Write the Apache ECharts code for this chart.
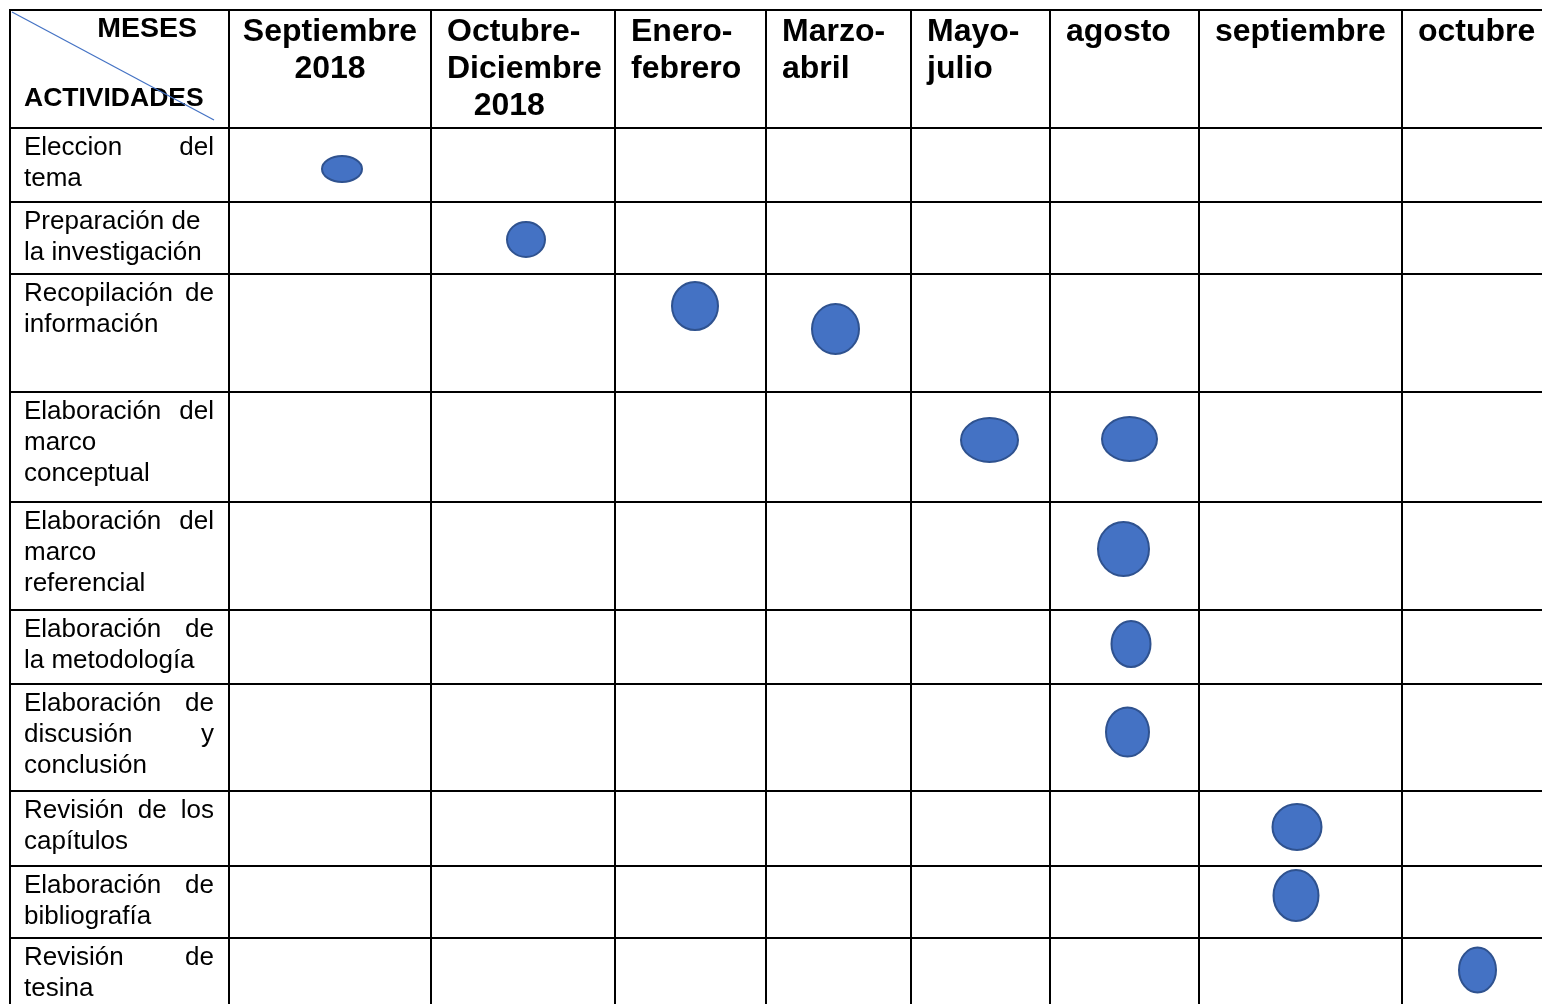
<!DOCTYPE html>
<html><head><meta charset="utf-8">
<script src="https://cdn.jsdelivr.net/npm/echarts@6/dist/echarts.min.js"></script>
<style>html,body{margin:0;padding:0;background:#fff}#c{width:1542px;height:1004px}</style>
</head><body><div id="c"></div>
<script>
// ---------- data ----------
const cornerTop = 'MESES';
const cornerBottom = 'ACTIVIDADES';
const months = ['Septiembre\n2018', 'Octubre-\nDiciembre\n   2018', 'Enero-\nfebrero', 'Marzo-\nabril', 'Mayo-\njulio', 'agosto', 'septiembre', 'octubre'];
const activities = [
  'Eleccion del\ntema',
  'Preparación de\nla investigación',
  'Recopilación de\ninformación',
  'Elaboración del\nmarco\nconceptual',
  'Elaboración del\nmarco\nreferencial',
  'Elaboración de\nla metodología',
  'Elaboración de\ndiscusión y\nconclusión',
  'Revisión de los\ncapítulos',
  'Elaboración de\nbibliografía',
  'Revisión de\ntesina'
];
// each scheduled mark: activity index and month index
const scheduledActivity = [0, 1, 2, 2, 3, 3, 4, 5, 6, 7, 8, 9];
const scheduledMonth    = [0, 1, 2, 3, 4, 5, 5, 5, 5, 6, 6, 7];

// ---------- layout (not data) ----------
const colWidths = [219, 202, 184, 151, 145, 139, 149, 203, 160];
const rowHeights = [118, 74, 72, 118, 110, 108, 74, 107, 75, 72, 75];
const justifyRows = [true, false, true, true, true, true, true, true, true, true];
const markOffsets = [[113,41],[95,37.5],[80,32],[69.5,55],[78.5,48],[79.5,47],[73.5,47],[81,34],[77.5,48],[98,36],[97,29.5],[75.5,32]];
const markSizes = [[42,28],[40,37],[48,50],[49,52],[59,46],[57,46],[53,56],[41,48],[45,51],[51,48],[47,53],[39,47]];

const totalW = colWidths.reduce((a, b) => a + b, 0);
const totalH = rowHeights.reduce((a, b) => a + b, 0);
const colEdges = [0]; colWidths.forEach(w => colEdges.push(colEdges[colEdges.length - 1] + w));
const rowEdges = [0]; rowHeights.forEach(h => rowEdges.push(rowEdges[rowEdges.length - 1] + h));

const FAMILY = '"Liberation Sans", Arial, sans-serif';
const headerFont = 'bold 32px ' + FAMILY;
const bodyFont = '26px ' + FAMILY;
const mesesFont = 'bold 28.5px ' + FAMILY;
const actFont = 'bold 26.5px ' + FAMILY;
const measureCtx = document.createElement('canvas').getContext('2d');
function textWidth(t, font) { measureCtx.font = font; return measureCtx.measureText(t).width; }

function txt(p, text, font, align) {
  return {
    type: 'text', x: p[0], y: p[1],
    style: { text: text, font: font, fill: '#000', align: align || 'left', textAlign: align || 'left', verticalAlign: 'middle', textVerticalAlign: 'middle' }
  };
}

function renderTable(params, api) {
  const children = [];
  const lw = 2;
  colEdges.forEach(x => {
    const a = api.coord([x, 0]), b = api.coord([x, totalH]);
    children.push({ type: 'line', shape: { x1: a[0], y1: a[1] - 1, x2: b[0], y2: b[1] }, style: { stroke: '#000', lineWidth: lw } });
  });
  rowEdges.forEach(y => {
    const a = api.coord([0, y]), b = api.coord([totalW, y]);
    children.push({ type: 'line', shape: { x1: a[0] - 1, y1: a[1], x2: b[0], y2: b[1] }, style: { stroke: '#000', lineWidth: lw } });
  });
  // corner texts
  children.push(txt(api.coord([187, 19]), cornerTop, mesesFont, 'right'));
  children.push(txt(api.coord([14, 89]), cornerBottom, actFont, 'left'));
  // diagonal
  const d1 = api.coord([2, 2]), d2 = api.coord([204, 110]);
  children.push({ type: 'line', shape: { x1: d1[0], y1: d1[1], x2: d2[0], y2: d2[1] }, style: { stroke: '#4472C4', lineWidth: 1.2 } });
  // month headers
  months.forEach((m, c) => {
    const lines = m.split('\n');
    lines.forEach((line, li) => {
      const y = 22 + li * 37;
      if (c === 0) {
        children.push(txt(api.coord([(colEdges[1] + colEdges[2]) / 2, y]), line, headerFont, 'center'));
      } else {
        children.push(txt(api.coord([colEdges[c + 1] + 16, y]), line, headerFont, 'left'));
      }
    });
  });
  // activity labels
  activities.forEach((label, r) => {
    const lines = label.split('\n');
    const top = rowEdges[r + 1];
    lines.forEach((line, li) => {
      const y = top + 20 + li * 30.7;
      const words = line.split(' ');
      const justify = justifyRows[r] && li < lines.length - 1 && words.length > 1;
      const left = 14, right = 204;
      if (justify) {
        const ws = words.map(w => textWidth(w, bodyFont));
        const sum = ws.reduce((a, b) => a + b, 0);
        const gap = (right - left - sum) / (words.length - 1);
        let x = left;
        words.forEach((w, wi) => {
          children.push(txt(api.coord([x, y]), w, bodyFont, 'left'));
          x += ws[wi] + gap;
        });
      } else {
        children.push(txt(api.coord([left, y]), line, bodyFont, 'left'));
      }
    });
  });
  return { type: 'group', children: children };
}

function renderMark(params, api) {
  const m = api.value(0), a = api.value(1), i = api.value(2);
  const off = markOffsets[i], sz = markSizes[i];
  const c = api.coord([colEdges[m + 1] + off[0], rowEdges[a + 1] + off[1]]);
  const s = api.size([sz[0], sz[1]]);
  return {
    type: 'ellipse',
    shape: { cx: c[0], cy: c[1], rx: s[0] / 2 - 1, ry: s[1] / 2 - 1 },
    style: { fill: '#4472C4', stroke: '#2F528F', lineWidth: 2 }
  };
}

const chart = echarts.init(document.getElementById('c'), null, { renderer: 'canvas' });
chart.setOption({
  animation: false,
  backgroundColor: '#fff',
  grid: { left: 10, top: 10, width: totalW, height: totalH, containLabel: false, outerBoundsMode: 'none' },
  xAxis: { type: 'value', min: 0, max: totalW, show: false },
  yAxis: { type: 'value', min: 0, max: totalH, inverse: true, show: false },
  series: [
    { type: 'custom', renderItem: renderTable, data: [[0]], clip: false, silent: true, z: 1 },
    { type: 'custom', renderItem: renderMark, data: scheduledActivity.map((a, i) => [scheduledMonth[i], a, i]), clip: false, z: 2 }
  ]
});
</script>
</body></html>
